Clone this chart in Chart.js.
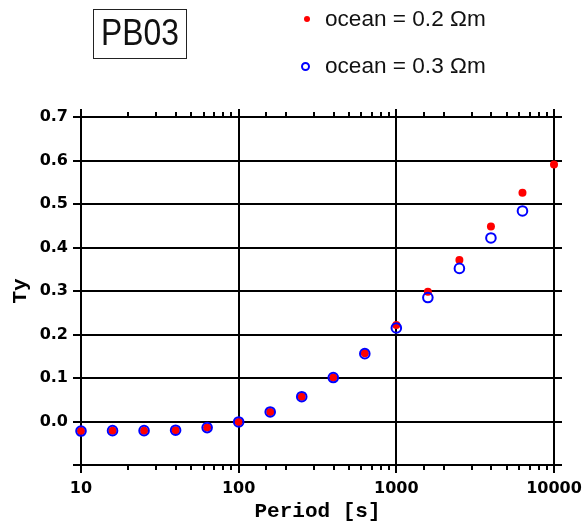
<!DOCTYPE html>
<html>
<head>
<meta charset="utf-8">
<script src="https://cdn.jsdelivr.net/npm/chart.js@4"></script>
<style>
    body { margin: 0; background: #fff; }
    #wrap { position: relative; width: 584px; height: 524px; }
    #station {
        position: absolute; left: 93px; top: 9px; width: 92px; height: 48px;
        border: 1px solid #222;
    }
    #station span {
        position: absolute; left: 0; width: 92px; top: 4px; text-align: center;
        font: 37px "Liberation Sans", Arial, sans-serif; line-height: 37px; color: #111;
        transform: scaleX(0.86);
    }
    .leg {
        position: absolute; left: 325px; font: 22.6px "Liberation Sans", Arial, sans-serif;
        line-height: 22px; color: #111; white-space: nowrap;
    }
    .dot { position: absolute; border-radius: 50%; box-sizing: border-box; }
</style>
</head>
<body>
<div id="wrap">
    <canvas id="ty-chart"></canvas>
    <div id="station"><span>PB03</span></div>
    <div class="dot" style="left:304px;top:16px;width:6px;height:6px;background:#ff0000;"></div>
    <div class="leg" style="top:8px;">ocean = 0.2 Ωm</div>
    <div class="dot" style="left:301px;top:62px;width:9px;height:9px;border:2px solid #0000ff;"></div>
    <div class="leg" style="top:55px;">ocean = 0.3 Ωm</div>
</div>
<script>
// periods in seconds (5 per decade)
const periods = [10, 15.85, 25.12, 39.81, 63.1, 100, 158.5, 251.2, 398.1, 631, 1000, 1585, 2512, 3981, 6310, 10000];
// Ty
const tyOcean02 = [-0.022, -0.021, -0.021, -0.020, -0.014, -0.001, 0.022, 0.057, 0.101, 0.157, 0.222, 0.298, 0.371, 0.448, 0.526, 0.591];
const tyOcean03 = [-0.022, -0.021, -0.021, -0.020, -0.014, -0.001, 0.022, 0.057, 0.101, 0.156, 0.215, 0.285, 0.352, 0.422, 0.484];
const xLabels = [10, 100, 1000, 10000];

const isDecade = v => xLabels.includes(Math.round(v));
const isMajorY = v => Math.round(v * 20) % 2 === 0;

// ticks outward on all four sides of the frame
const frameTicks = {
    id: 'frameTicks',
    beforeDatasetsDraw(chart) {
        const { ctx, chartArea: { left, right, top, bottom }, scales: { x, y } } = chart;
        ctx.save();
        ctx.strokeStyle = '#000';
        ctx.lineWidth = 2;
        ctx.beginPath();
        x.ticks.forEach(t => {
            const px = Math.round(x.getPixelForValue(t.value));
            const len = isDecade(t.value) ? 8 : 5;
            ctx.moveTo(px, top); ctx.lineTo(px, top - len);
            ctx.moveTo(px, bottom); ctx.lineTo(px, bottom + len);
        });
        y.ticks.forEach(t => {
            const py = Math.round(y.getPixelForValue(t.value));
            const len = isMajorY(t.value) ? 8 : 5;
            ctx.moveTo(left, py); ctx.lineTo(left - len, py);
            ctx.moveTo(right, py); ctx.lineTo(right + len, py);
        });
        ctx.stroke();
        ctx.restore();
    }
};

const tickFont = { family: "'DejaVu Sans', sans-serif", size: 16, weight: 'bold' };
const titleFont = { family: "'Liberation Mono', 'Courier New', monospace", size: 21, weight: 'bold' };

new Chart(document.getElementById('ty-chart'), {
    type: 'scatter',
    data: {
        datasets: [
            {
                label: 'ocean = 0.3 Ωm',
                data: tyOcean03.map((v, i) => ({ x: periods[i], y: v })),
                backgroundColor: 'rgba(0,0,0,0)',
                borderColor: '#0000ff',
                borderWidth: 2,
                pointRadius: 4.8,
                order: 0,
                clip: false
            },
            {
                label: 'ocean = 0.2 Ωm',
                data: tyOcean02.map((v, i) => ({ x: periods[i], y: v })),
                backgroundColor: '#ff0000',
                borderWidth: 0,
                pointRadius: 4,
                order: 1,
                clip: false
            }
        ]
    },
    options: {
        responsive: true,
        maintainAspectRatio: false,
        animation: false,
        layout: { padding: { top: 117, right: 30, left: 0, bottom: 0 } },
        plugins: { legend: { display: false }, tooltip: { enabled: false } },
        scales: {
            x: {
                type: 'logarithmic',
                min: 10,
                max: 10000,
                afterFit: s => { s.height = 59; s.paddingLeft = 0; s.paddingRight = 0; },
                border: { color: '#000', width: 2 },
                grid: {
                    drawTicks: false,
                    lineWidth: 2,
                    color: ctx => isDecade(ctx.tick.value) ? '#000' : 'rgba(0,0,0,0)'
                },
                ticks: {
                    autoSkip: false,
                    maxRotation: 0,
                    padding: 14,
                    color: '#000',
                    font: tickFont,
                    callback: v => isDecade(v) ? String(Math.round(v)) : ''
                },
                title: { display: true, text: 'Period [s]', color: '#000', font: titleFont, padding: { top: 0, bottom: 0 } }
            },
            y: {
                min: -0.1,
                max: 0.7,
                afterFit: s => { s.width = 81; s.paddingTop = 0; s.paddingBottom = 0; },
                border: { color: '#000', width: 2 },
                grid: { drawTicks: false, lineWidth: 2, color: '#000' },
                ticks: {
                    stepSize: 0.05,
                    padding: 13,
                    color: '#000',
                    font: tickFont,
                    callback: v => (isMajorY(v) && v > -0.05) ? (Math.abs(v) < 1e-9 ? 0 : v).toFixed(1) : ''
                },
                title: { display: true, text: 'Ty', color: '#000', font: titleFont, padding: { top: 8, bottom: 0 } }
            }
        }
    },
    plugins: [frameTicks]
});
</script>
</body>
</html>
